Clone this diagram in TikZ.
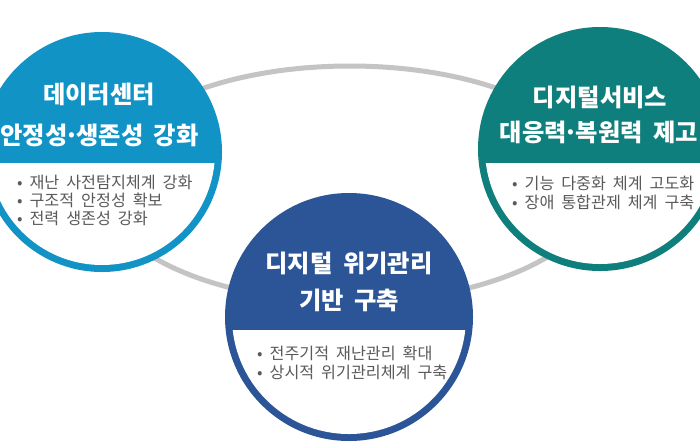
\documentclass[tikz,border=0pt]{standalone}
\usepackage{fontspec}
\newfontfamily\krtitle{Noto Sans CJK KR}[WordSpace=1.1]
\newfontfamily\krbody{Noto Sans CJK KR}[WordSpace=1.9]
\definecolor{cleft}{HTML}{1193C6}
\definecolor{cright}{HTML}{0E7F7C}
\definecolor{cbottom}{HTML}{2C5597}
\definecolor{ringgray}{HTML}{C4C4C4}
\definecolor{bodygray}{HTML}{5A5A5A}
\newcommand{\mdot}{\kern-0.12em·\kern-0.12em}
\tikzset{
  disc/.style={circle, inner sep=0pt, minimum size=#1},
  ttl/.style={text=white, font=\krtitle\bfseries\fontsize{24.3}{26}\selectfont, inner sep=0pt, anchor=center},
  bul/.style={text=bodygray, font=\krbody\fontsize{16.2}{18}\selectfont, inner sep=0pt, anchor=west},
}
\newcommand{\badge}[6]{% name, x, y, r, color, divider y
  \node[disc=#4*2pt, fill=#5] (#1) at (#2,#3) {};
  \begin{scope}
    \clip (#2,#3) circle[radius=#4-7];
    \fill[white] (#2-#4,#6) rectangle (#2+#4,#3+#4);
  \end{scope}
}
\begin{document}
\begin{tikzpicture}[x=1pt,y=-1pt]
\useasboundingbox (0,0) rectangle (700,440);
\fill[white] (0,0) rectangle (700,440);
% gray connecting ring
\draw[ringgray, line width=5pt] (350,184) ellipse[x radius=251, y radius=118];
% circles
\badge{dc}{102}{152}{120}{cleft}{163}
\badge{ds}{600}{149}{122}{cright}{163}
\badge{cm}{349}{317}{124}{cbottom}{330}
% left texts
\node[ttl] (dct1) at (99,94) {데이터센터};
\node[ttl] (dct2) at (99.5,135) {안정성\mdot 생존성 강화};
\node[bul] (dcb1) at (17,182) {• 재난 사전탐지체계 강화};
\node[bul] (dcb2) at (17,200) {• 구조적 안정성 확보};
\node[bul] (dcb3) at (17,218) {• 전력 생존성 강화};
% right texts
\node[ttl] (dst1) at (600,97) {디지털서비스};
\node[ttl] (dst2) at (599,132) {대응력\mdot 복원력 제고};
\node[bul] (dsb1) at (512,183) {• 기능 다중화 체계 고도화};
\node[bul] (dsb2) at (512,202) {• 장애 통합관제 체계 구축};
% bottom texts
\node[ttl] (cmt1) at (349,263) {디지털 위기관리};
\node[ttl] (cmt2) at (349,300) {기반 구축};
\node[bul] (cmb1) at (257,353) {• 전주기적 재난관리 확대};
\node[bul] (cmb2) at (257,372) {• 상시적 위기관리체계 구축};
\end{tikzpicture}
\end{document}
